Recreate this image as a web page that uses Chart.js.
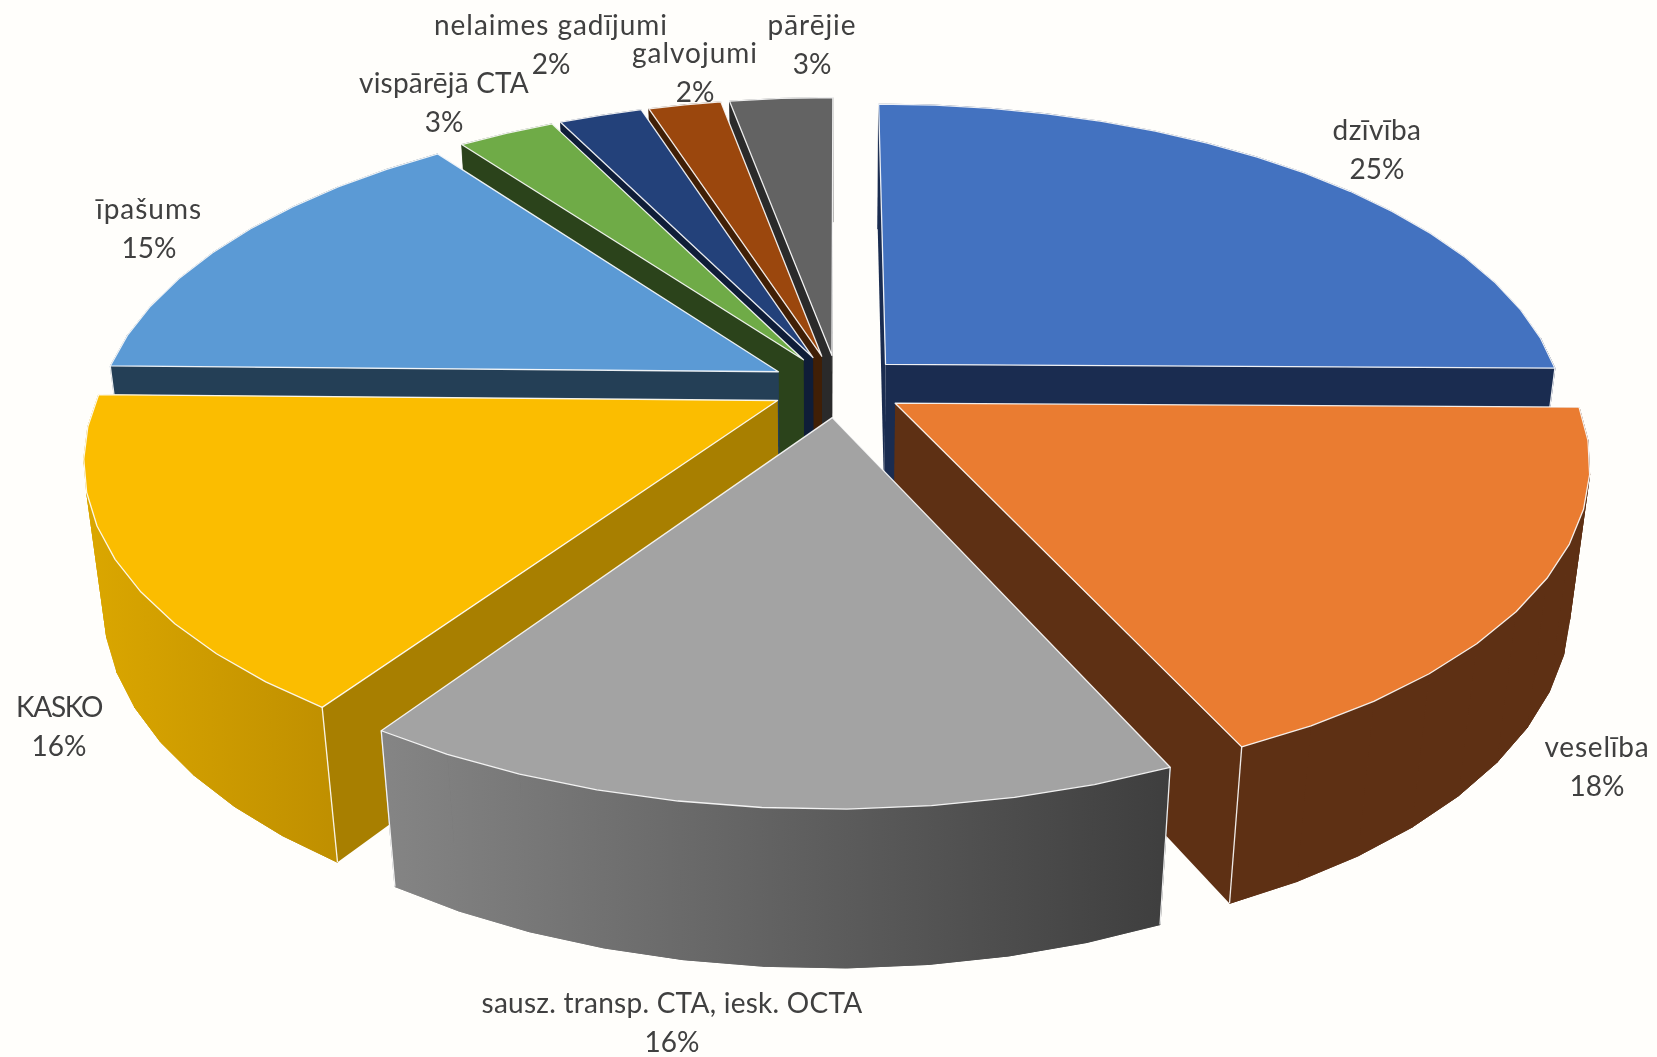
<!DOCTYPE html>
<html lang="lv">
<head>
  <meta charset="UTF-8">
  <title>Apdrošināšanas veidi</title>
  <script src="https://cdn.jsdelivr.net/npm/chart.js"></script>
  <style>
    html, body { margin: 0; padding: 0; background: #fffefb; }
    canvas { display: block; }
  </style>
</head>
<body>
  <canvas id="myCanvas" width="1657" height="1057"></canvas>
  <script>
    const categories = ["dzīvība", "veselība", "sausz. transp. CTA, iesk. OCTA", "KASKO", "īpašums",
      "vispārējā CTA", "nelaimes gadījumi", "galvojumi", "pārējie"];
    const shares = [25.2, 18, 16.25, 15.85, 14.65, 2.75, 2.35, 2.05, 2.9];

    const topColors = ["#4372c0", "#ea7c31", "#a3a3a3", "#fbbd00", "#5b9ad5", "#6fab47", "#23417a", "#9b470d", "#636363"];
    const wallColors = ["#1a2c50", "#5e3014", "#3e3e3e", "#a87f00", "#243f56", "#2b431b", "#0f1d38", "#401f06", "#2a2a2a"];
    const rimFrom = ["#1a2c50", "#5e3014", "#858585", "#dba700", "#243f56", "#2b431b", "#0f1d38", "#401f06", "#2a2a2a"];
    const rimTo = ["#1a2c50", "#5e3014", "#3e3e3e", "#bf8f00", "#243f56", "#2b431b", "#0f1d38", "#401f06", "#2a2a2a"];

    // label centre x, baseline of the name line, width of the name
    const labelSpots = [[1377, 140, 89], [1597, 757, 105], [672, 1013, 381], [59, 717, 86], [149, 219, 106],
      [444, 93, 170], [551, 35, 234], [695, 63, 126], [812, 35, 89]];

    // perspective of the tilted disc
    const view = { cx: 838, cy: 386, rx: 676, ry: 312, depth: 144, tilt: 0.172, sink: 0.026, explode: 0.1 };

    function project(px, py, z) {
      const d = 1 + view.tilt * py + view.sink * z;
      return [view.cx + view.rx * px / d, view.cy - (view.ry * py - view.depth * z) / d];
    }

    function tracePath(ctx, pts) {
      ctx.beginPath();
      pts.forEach((p, i) => i ? ctx.lineTo(p[0], p[1]) : ctx.moveTo(p[0], p[1]));
    }

    function drawSlice(ctx, arc, i) {
      const a0 = arc.startAngle + Math.PI / 2;
      const a1 = arc.endAngle + Math.PI / 2;
      const mid = (a0 + a1) / 2;
      const ox = view.explode * Math.sin(mid);
      const oy = view.explode * Math.cos(mid);
      const steps = Math.max(2, Math.round((a1 - a0) / 0.1));
      const angleAt = s => a0 + (a1 - a0) * s / steps;

      const rim = (z) => {
        const out = [];
        for (let s = 0; s <= steps; s++) {
          out.push(project(ox + Math.sin(angleAt(s)), oy + Math.cos(angleAt(s)), z));
        }
        return out;
      };
      const top = rim(0);
      const bottom = rim(1);
      const apexTop = project(ox, oy, 0);
      const apexBottom = project(ox, oy, 1);

      const xs = top.concat(bottom).map(p => p[0]);
      const grad = ctx.createLinearGradient(Math.min(...xs), 0, Math.max(...xs), 0);
      grad.addColorStop(0, rimFrom[i]);
      grad.addColorStop(1, rimTo[i]);

      // outer wall piece by piece, one polygon would fold over itself at the sides
      const wallPieces = (test) => {
        ctx.fillStyle = grad;
        ctx.strokeStyle = grad;
        ctx.lineWidth = 0.8;
        for (let s = 0; s < steps; s++) {
          if (!test(Math.cos(angleAt(s + 0.5)))) continue;
          tracePath(ctx, [top[s], top[s + 1], bottom[s + 1], bottom[s]]);
          ctx.closePath();
          ctx.fill();
          ctx.stroke();
        }
      };

      wallPieces(() => true);

      // radial walls
      ctx.fillStyle = wallColors[i];
      [[top[0], bottom[0]], [top[steps], bottom[steps]]]
        .sort((p, q) => p[0][1] - q[0][1])
        .forEach(e => {
          tracePath(ctx, [apexTop, e[0], e[1], apexBottom]);
          ctx.closePath();
          ctx.fill();
        });

      // near part of the outer wall goes over the radial walls
      wallPieces(c => c < 0.05);

      // corner edges, near ones only
      ctx.strokeStyle = "rgba(255,255,255,0.9)";
      ctx.lineWidth = 1.3;
      [0, steps].forEach(s => {
        if (Math.cos(angleAt(s)) < 0.05) {
          tracePath(ctx, [top[s], bottom[s]]);
          ctx.stroke();
        }
      });

      // top face
      tracePath(ctx, [apexTop].concat(top));
      ctx.closePath();
      ctx.fillStyle = topColors[i];
      ctx.fill();
      ctx.stroke();
    }

    const pie3d = {
      id: "pie3d",
      beforeDatasetsDraw(chart) {
        const ctx = chart.ctx;
        const arcs = chart.getDatasetMeta(0).data;
        // far slices first
        const order = arcs.map((arc, i) => i).sort((p, q) => {
          const m = k => (arcs[k].startAngle + arcs[k].endAngle) / 2 + Math.PI / 2;
          return Math.cos(m(q)) - Math.cos(m(p));
        });
        ctx.save();
        ctx.lineJoin = "round";
        order.forEach(i => drawSlice(ctx, arcs[i], i));
        ctx.font = "28px Lato";
        ctx.fillStyle = "#404040";
        ctx.textAlign = "center";
        categories.forEach((name, i) => {
          const [x, y, w] = labelSpots[i];
          ctx.letterSpacing = "0px";
          const extra = (w - ctx.measureText(name).width) / name.length;
          ctx.letterSpacing = extra.toFixed(2) + "px";
          ctx.fillText(name, x, y);
          ctx.letterSpacing = "0px";
          ctx.fillText(Math.round(shares[i]) + "%", x, y + 39);
        });
        ctx.restore();
        return false;
      }
    };

    new Chart(document.getElementById("myCanvas"), {
      type: "pie",
      data: {
        labels: categories,
        datasets: [{ data: shares, backgroundColor: topColors }]
      },
      options: {
        responsive: false,
        animation: false,
        plugins: { legend: { display: false }, tooltip: { enabled: false } }
      },
      plugins: [pie3d]
    });
  </script>
</body>
</html>
